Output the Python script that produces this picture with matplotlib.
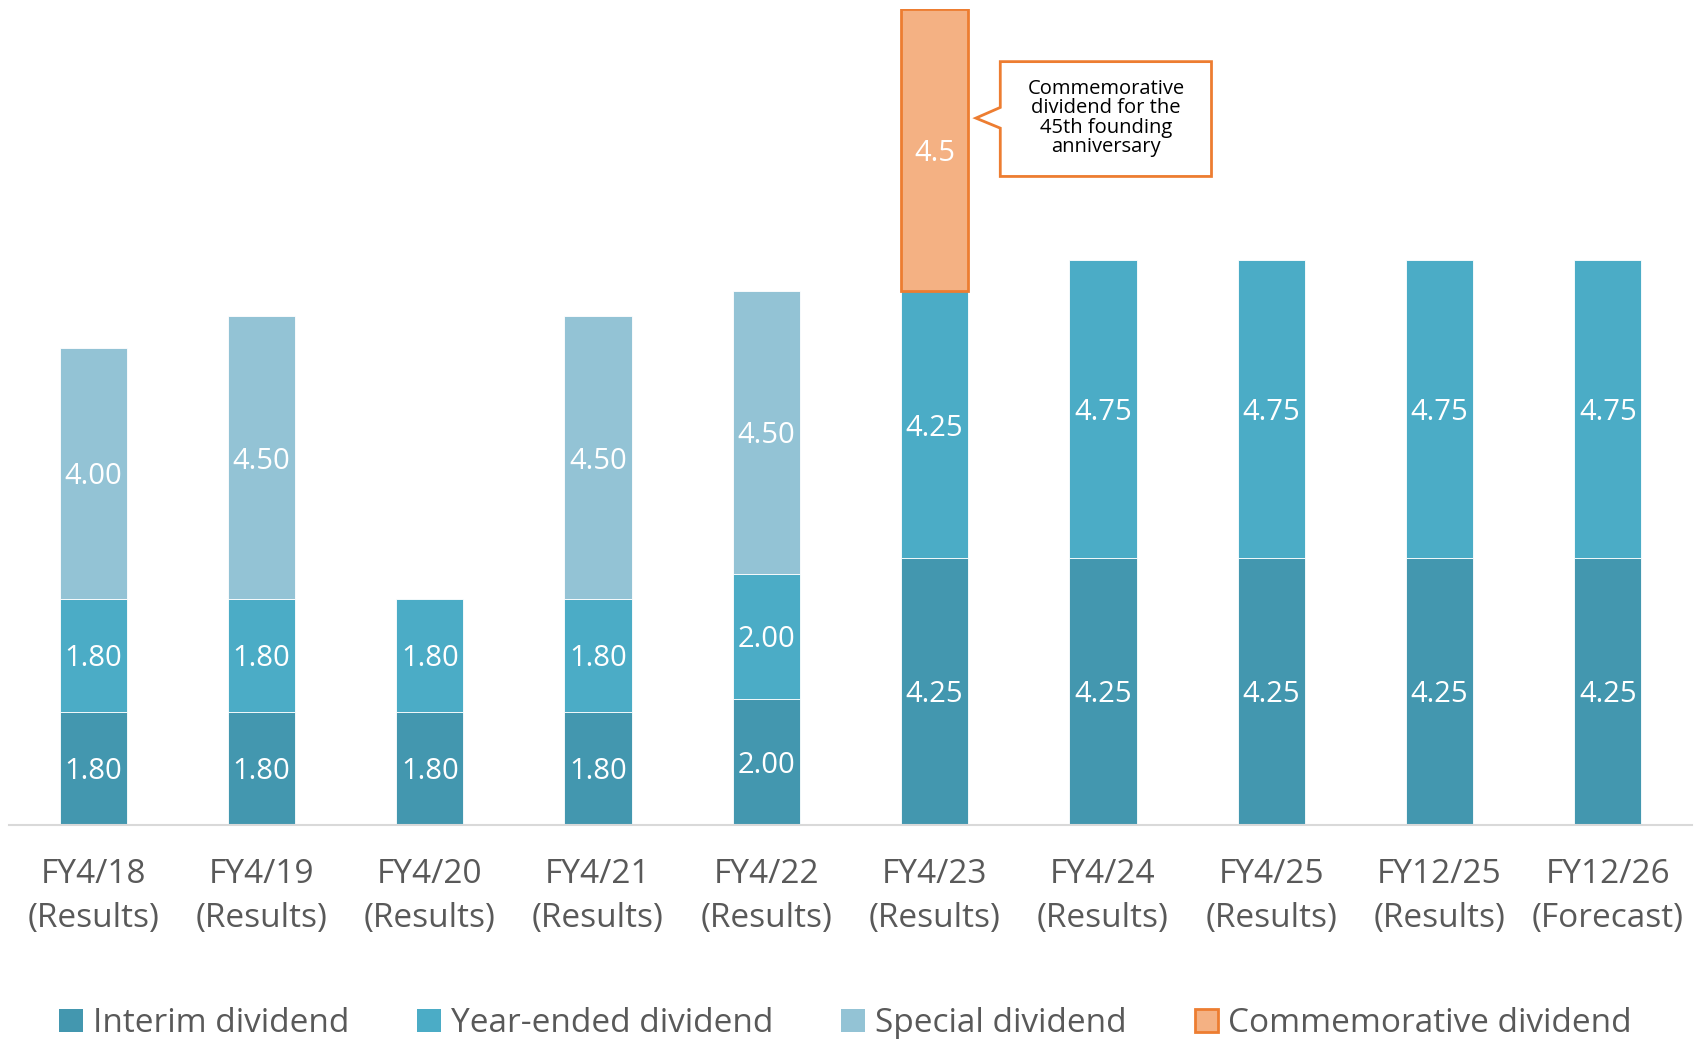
#! /usr/bin/env python

import matplotlib
matplotlib.use('Agg')
import matplotlib.pyplot as plt
from matplotlib.patches import Polygon, Patch
import numpy as np

periods = ['FY4/18\n(Results)', 'FY4/19\n(Results)', 'FY4/20\n(Results)',
           'FY4/21\n(Results)', 'FY4/22\n(Results)', 'FY4/23\n(Results)',
           'FY4/24\n(Results)', 'FY4/25\n(Results)', 'FY12/25\n(Results)',
           'FY12/26\n(Forecast)']
interim = [1.80, 1.80, 1.80, 1.80, 2.00, 4.25, 4.25, 4.25, 4.25, 4.25]
year_end = [1.80, 1.80, 1.80, 1.80, 2.00, 4.25, 4.75, 4.75, 4.75, 4.75]
special = [4.00, 4.50, 0, 4.50, 4.50, 0, 0, 0, 0, 0]
commemorative = [0, 0, 0, 0, 0, 4.5, 0, 0, 0, 0]
note = 'Commemorative\ndividend for the\n45th founding\nanniversary'


def main():
    plt.rcParams['font.family'] = ['Open Sans', 'DejaVu Sans']
    fig = plt.figure(figsize=(17.01, 10.39), dpi=100)
    ax = fig.add_axes([0.0053, 0.2064, 0.9894, 0.785])

    x = np.arange(len(periods))
    w = 0.4
    bottom = np.zeros(len(periods))
    series = [
        ('Interim dividend', interim, '#4397AF', 'white', 0.6, '%.2f'),
        ('Year-ended dividend', year_end, '#4BACC6', 'white', 0.6, '%.2f'),
        ('Special dividend', special, '#93C3D5', 'white', 0.6, '%.2f'),
        ('Commemorative dividend', commemorative, '#F4B183', '#ED7D31', 2.0, '%.1f'),
    ]
    handles = []
    for name, vals, color, edge, lw, fmt in series:
        vals = np.asarray(vals, dtype=float)
        # no outline on empty segments
        lws = [lw if v > 0 else 0 for v in vals]
        bars = ax.bar(x, vals, w, bottom=bottom, color=color, edgecolor=edge,
                      linewidth=lws)
        labels = [fmt % v if v > 0 else '' for v in vals]
        texts = ax.bar_label(bars, labels=labels, label_type='center', color='white',
                             fontsize=21)
        for t in texts:
            t.set_va('center_baseline')
        bottom += vals
        handles.append(Patch(facecolor=color, edgecolor=edge if edge != 'white' else color,
                             linewidth=lw if edge != 'white' else 0, label=name))

    # callout for the commemorative dividend
    i = commemorative.index(max(commemorative))
    top = bottom[i]
    xl, xr = i + 0.39, i + 1.645
    yt, yb = top - 0.84, top - 2.67
    pts = [(xl, yt), (xr, yt), (xr, yb), (xl, yb), (xl, top - 1.9),
           (i + 0.245, top - 1.74), (xl, top - 1.57)]
    ax.add_patch(Polygon(pts, closed=True, facecolor='white', edgecolor='#ED7D31',
                         linewidth=2, zorder=5))
    ax.text((xl + xr) / 2, top - 1.74, note, ha='center', va='center',
            fontsize=14.5, linespacing=0.95, color='black', zorder=6)

    ax.set_xlim(-0.5, len(periods) - 0.5)
    ax.set_ylim(0, top)
    ax.set_xticks(x)
    ax.set_xticklabels(periods, fontsize=24, color='#595959', linespacing=1.45)
    ax.tick_params(axis='x', length=0, pad=24)
    ax.set_yticks([])
    for s in ['top', 'right', 'left']:
        ax.spines[s].set_visible(False)
    ax.spines['bottom'].set_color('#D9D9D9')
    ax.spines['bottom'].set_linewidth(1.5)
    ax.patch.set_alpha(0)

    fig.legend(handles=handles, loc='center', bbox_to_anchor=(0.497, 0.015), ncol=4,
               frameon=False, fontsize=24, labelcolor='#595959', handlelength=0.7,
               handleheight=0.7, handletextpad=0.3, columnspacing=2.05)

    plt.savefig('out.png', dpi=100)


if __name__ == '__main__':
    main()
